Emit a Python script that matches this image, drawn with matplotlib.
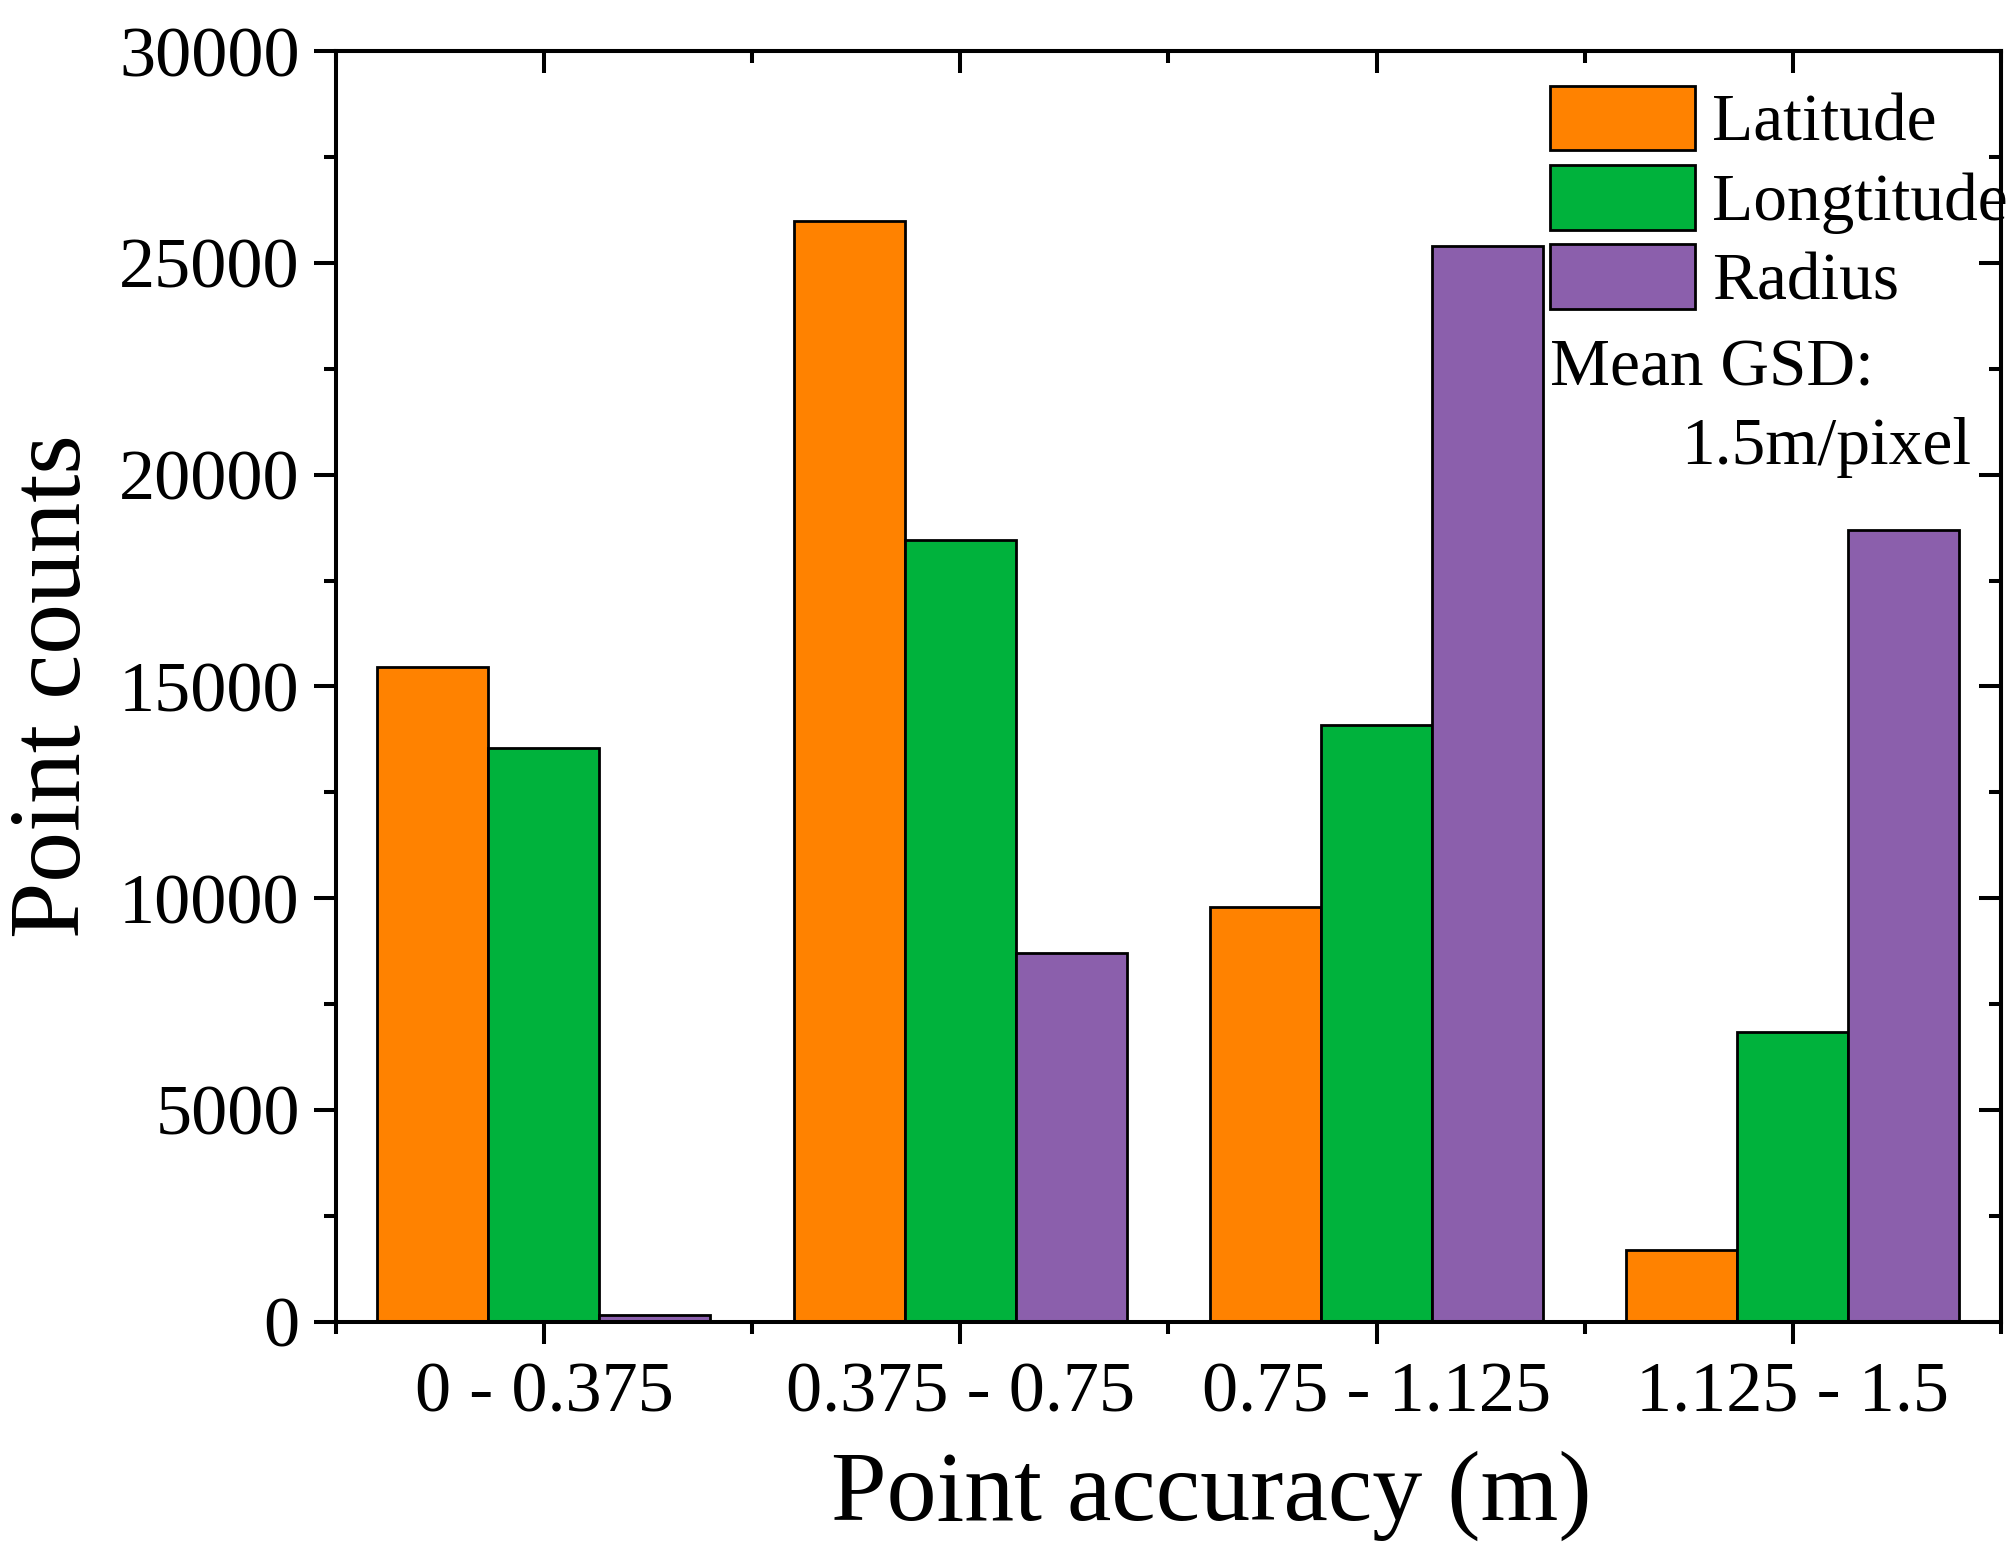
import numpy as np
import matplotlib
matplotlib.use("Agg")
import matplotlib.pyplot as plt
from matplotlib.ticker import MultipleLocator, FixedLocator

# values
categories = ["0 - 0.375", "0.375 - 0.75", "0.75 - 1.125", "1.125 - 1.5"]
latitude = [15450, 26000, 9800, 1700]
longtitude = [13550, 18450, 14100, 6850]
radius = [150, 8700, 25400, 18700]
series_names = ["Latitude", "Longtitude", "Radius"]
colors = ["#FF8200", "#00B23C", "#8B5FAC"]

plt.rcParams['font.family'] = ['Liberation Serif', 'DejaVu Serif']

fig = plt.figure(figsize=(20.11, 15.53), dpi=100)
ax = fig.add_axes([0.167, 0.149, 0.828, 0.818])

x = np.arange(len(categories))
w = 0.8 / 3
for i, (vals, name) in enumerate(zip([latitude, longtitude, radius], series_names)):
    ax.bar(x + (i - 1) * w, vals, width=w, color=colors[i], edgecolor='black',
           linewidth=2.0, label=name, zorder=2)

ax.set_xlim(-0.5, 3.5)
ax.set_ylim(0, 30000)
ax.set_xticks(x)
ax.set_xticklabels(categories)
bounds = [-0.5, 0.5, 1.5, 2.5, 3.5]
ax.xaxis.set_minor_locator(FixedLocator(bounds))
ax.yaxis.set_major_locator(MultipleLocator(5000))
ax.yaxis.set_minor_locator(MultipleLocator(2500))

lw = 2.9
for sp in ax.spines.values():
    sp.set_linewidth(lw)
ax.tick_params(which='major', direction='out', length=16, width=lw, labelsize=52, pad=10)
ax.tick_params(which='minor', direction='out', length=8.5, width=lw)
ax.tick_params(axis='x', which='major', pad=13)

# mirrored ticks on top and right, pointing inward
top = ax.secondary_xaxis('top')
top.set_xticks(x)
top.xaxis.set_minor_locator(FixedLocator(bounds))
top.tick_params(which='major', direction='in', length=16, width=lw, labeltop=False)
top.tick_params(which='minor', direction='in', length=8.5, width=lw)
top.spines['top'].set_linewidth(lw)
right = ax.secondary_yaxis('right')
right.yaxis.set_major_locator(MultipleLocator(5000))
right.yaxis.set_minor_locator(MultipleLocator(2500))
right.tick_params(which='major', direction='in', length=16, width=lw, labelright=False)
right.tick_params(which='minor', direction='in', length=8.5, width=lw)
right.spines['right'].set_linewidth(lw)

ax.set_ylabel("Point counts", fontsize=73, va='center')
ax.yaxis.set_label_coords(-0.168, 0.5)
ax.set_xlabel("Point accuracy (m)", fontsize=72, va='center')
ax.xaxis.set_label_coords(0.526, -0.137)

leg = ax.legend(loc='upper left', bbox_to_anchor=(0.729, 0.973), frameon=False,
                fontsize=48.5, handlelength=2.15, handleheight=1.1, labelspacing=0.15,
                handletextpad=0.26, borderpad=0, borderaxespad=0)
for p in leg.get_patches():
    p.set_linewidth(2.0)

ax.text(0.729, 0.750, "Mean GSD:", transform=ax.transAxes, fontsize=48.5,
        ha='left', va='center')
ax.text(0.808, 0.688, "1.5m/pixel", transform=ax.transAxes, fontsize=48.5,
        ha='left', va='center')

fig.savefig("out.png", dpi=100)
